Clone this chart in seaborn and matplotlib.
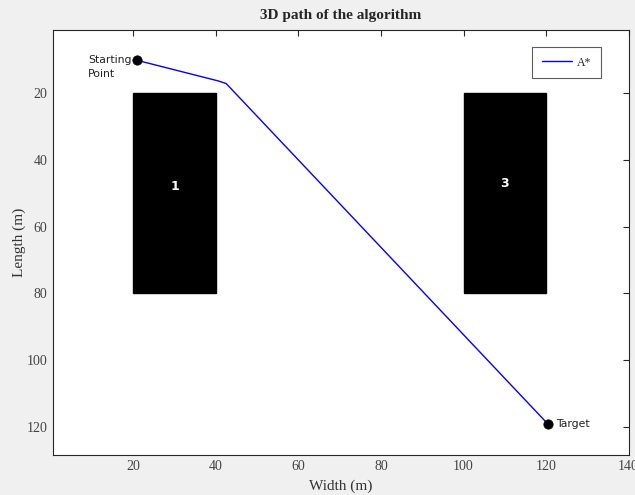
import numpy as np
import pandas as pd
import seaborn as sns
import matplotlib.pyplot as plt
from matplotlib.patches import Rectangle

# path of the A* algorithm (width, length)
path_x = [20.8, 40.5, 42.5, 43.5, 120.5]
path_y = [10.0, 16.2, 17.0, 18.3, 119.3]

# obstacles
obs_x0 = [20, 100]
obs_x1 = [40, 120]
obs_y0 = [20, 20]
obs_y1 = [80, 80]
obs_label = ['1', '3']
obs_label_y = [48, 47]

xticks = [20, 40, 60, 80, 100, 120, 140]
yticks = [20, 40, 60, 80, 100, 120]

sns.set_style('white')
plt.rcParams['font.family'] = ['Liberation Serif', 'DejaVu Serif']

fig = plt.figure(figsize=(6.35, 4.95), dpi=100, facecolor='#f0f0f0')
ax = fig.add_axes([0.083, 0.081, 0.907, 0.858])
ax.set_facecolor('white')

for x0, x1, y0, y1, lab, ly in zip(obs_x0, obs_x1, obs_y0, obs_y1, obs_label, obs_label_y):
    ax.add_patch(Rectangle((x0, y0), x1 - x0, y1 - y0, color='black', zorder=1))
    ax.text((x0 + x1) / 2, ly, lab, color='white', fontweight='bold', fontsize=9,
            ha='center', va='center', family='DejaVu Sans', zorder=2)

df = pd.DataFrame({'x': path_x, 'y': path_y})
sns.lineplot(data=df, x='x', y='y', sort=False, color='#0000ff', lw=1.0,
             label='A*', ax=ax, zorder=3)
ends = df.iloc[[0, -1]]
sns.scatterplot(data=ends, x='x', y='y', color='black', s=45, edgecolor='black',
                ax=ax, zorder=4, legend=False)

ax.text(9, 12, 'Starting\nPoint', ha='left', va='center', multialignment='left',
        fontsize=7.8, family='DejaVu Sans', color='#222222', linespacing=1.5)
ax.text(122.5, path_y[-1], 'Target', ha='left', va='center',
        fontsize=7.8, family='DejaVu Sans', color='#222222')

ax.set_xlim(0.5, 140)
ax.set_ylim(128.5, 1)
ax.set_xticks(xticks)
ax.set_yticks(yticks)
ax.tick_params(direction='in', length=4, width=0.8, top=True, right=True,
               colors='#262626', labelcolor='#444444', labelsize=10)
ax.tick_params(axis='x', pad=4)
ax.tick_params(axis='y', pad=4)
for s in ax.spines.values():
    s.set_color('#262626')
    s.set_linewidth(0.8)

ax.set_xlabel('Width (m)', fontsize=11, color='#333333', labelpad=4)
ax.set_ylabel('Length (m)', fontsize=11, color='#333333', labelpad=0)
ax.set_title('3D path of the algorithm', fontsize=11, fontweight='bold', pad=8)

leg = ax.legend(loc='upper right', bbox_to_anchor=(0.962, 0.974), frameon=True,
                fancybox=False, edgecolor='#333333', fontsize=8.5, handlelength=2.6,
                borderpad=0.8, handletextpad=0.4)
leg.get_frame().set_linewidth(0.8)

fig.savefig('out.png', dpi=100, facecolor=fig.get_facecolor())
